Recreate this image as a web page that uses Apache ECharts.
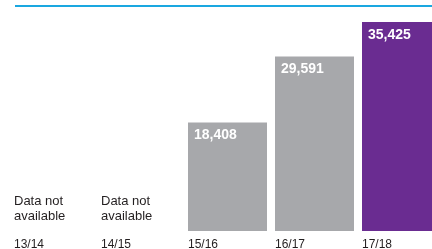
<!DOCTYPE html>
<html>
<head>
<meta charset="utf-8">
<script src="https://cdn.jsdelivr.net/npm/echarts@6/dist/echarts.min.js"></script>
<style>
  html, body { margin: 0; padding: 0; background: #fff; }
  #chart { width: 432px; height: 249px; }
</style>
</head>
<body>
<div id="chart"></div>
<script>
// years and values (null = no data for that year)
var years = ['13/14', '14/15', '15/16', '16/17', '17/18'];
var values = [null, null, 18408, 29591, 35425];
var missingText = 'Data not\navailable';

var grey = '#a7a8ab';
var purple = '#6a2c91';
var font = 'Liberation Sans, Arial, Helvetica, sans-serif';

var barData = values.map(function (v, i) {
    if (v === null) {
        return {
            value: 0,
            label: {
                show: true,
                formatter: missingText,
                position: 'insideBottomLeft',
                distance: 0,
                offset: [0, -7],
                color: '#231f20',
                fontWeight: 'normal',
                fontSize: 13,
                lineHeight: 15
            }
        };
    }
    return {
        value: v,
        itemStyle: { color: i === values.length - 1 ? purple : grey }
    };
});

var option = {
    animation: false,
    backgroundColor: '#fff',
    textStyle: { fontFamily: font },
    // last bar runs past the right edge, as in the source
    grid: { left: 10, width: 435, top: 22, height: 209, outerBoundsMode: 'none', containLabel: false },
    graphic: [
        {
            type: 'rect',
            shape: { x: 15, y: 5, width: 420, height: 2 },
            style: { fill: '#1aa7e0' }
        }
    ],
    xAxis: {
        type: 'category',
        data: years,
        axisLine: { show: false },
        axisTick: { show: false },
        axisLabel: {
            margin: 8,
            align: 'center',
            formatter: function (v) { return '{a|' + v + '}'; },
            rich: {
                a: { width: 79, align: 'left', fontSize: 12, color: '#231f20', fontFamily: font }
            }
        }
    },
    yAxis: {
        type: 'value',
        min: 0,
        max: 35425,
        show: false,
        splitLine: { show: false }
    },
    series: [
        {
            type: 'bar',
            barWidth: 79,
            data: barData,
            label: {
                show: true,
                position: 'insideTopLeft',
                distance: 6,
                color: '#fff',
                fontWeight: 'bold',
                fontSize: 14,
                fontFamily: font,
                formatter: function (p) { return p.value.toLocaleString('en-US'); }
            }
        }
    ]
};

var chart = echarts.init(document.getElementById('chart'));
chart.setOption(option);
</script>
</body>
</html>
